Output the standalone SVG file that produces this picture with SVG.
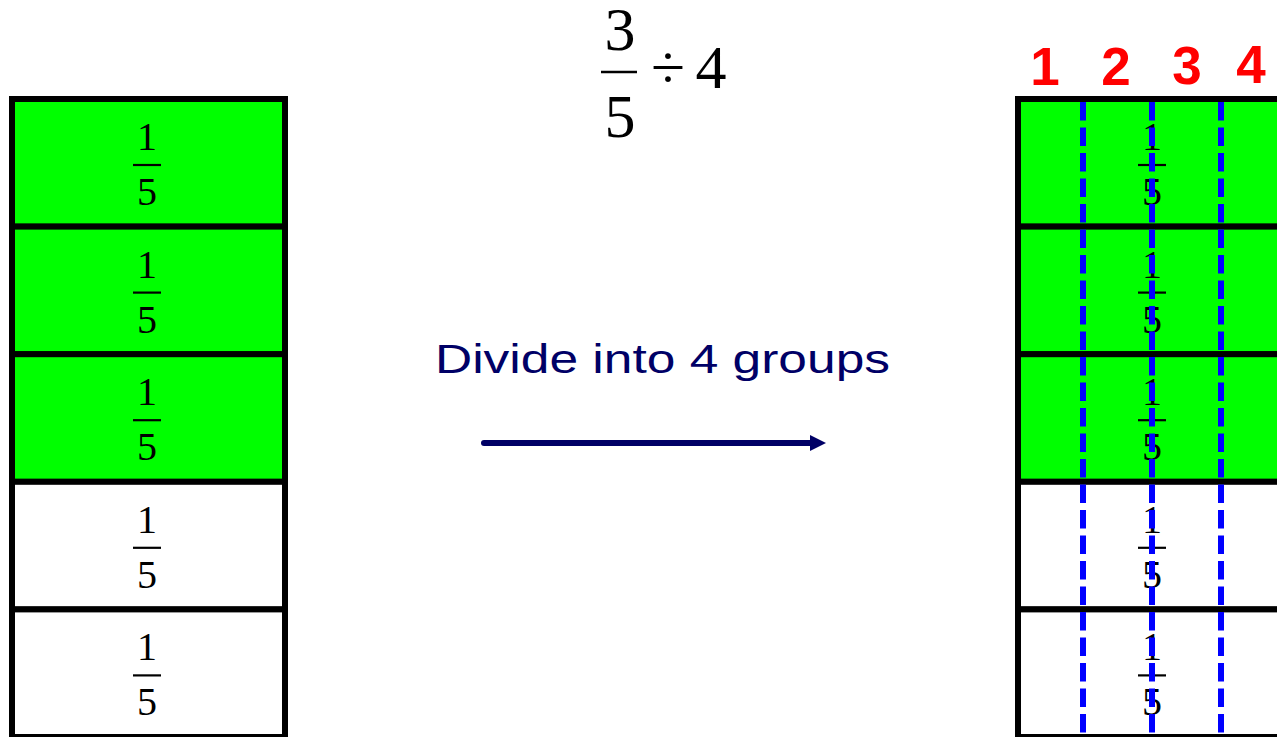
<svg xmlns="http://www.w3.org/2000/svg" width="1277" height="737" viewBox="0 0 1277 737">
<defs>
<style>
.cell{stroke:#000;stroke-width:6}
.g{fill:#00FF00}
.w{fill:#fff}
.fr{font-family:"Liberation Serif","Times New Roman",serif;font-size:40px;fill:#000;text-anchor:middle}
.bar{stroke:#000;stroke-width:2.2}
.big{font-family:"Liberation Serif","Times New Roman",serif;font-size:62px;fill:#000;text-anchor:middle}
.num{font-family:"Liberation Sans",Arial,sans-serif;font-size:53px;font-weight:bold;fill:#FF0000;text-anchor:middle}
.dash{stroke:#0000FF;stroke-width:6;stroke-dasharray:18.5 7;fill:none}
.lbl{font-family:"Liberation Sans",Arial,sans-serif;font-size:41px;fill:#000066}
</style>
<marker id="ah" markerUnits="userSpaceOnUse" markerWidth="18" markerHeight="18" refX="2" refY="8" orient="auto">
<path d="M0,0 L16,8 L0,16 Z" fill="#000066"/>
</marker>
<g id="frac">
<text class="fr" x="0" y="51">1</text>
<line class="bar" x1="-14" y1="66" x2="14" y2="66"/>
<text class="fr" x="0" y="106">5</text>
</g>
</defs>
<rect width="1277" height="737" fill="#fff"/>

<g id="equation">
<text class="big" x="620" y="50">3</text>
<line stroke="#000" stroke-width="2.5" x1="601" y1="72" x2="637" y2="72"/>
<text class="big" x="620" y="137">5</text>
<text class="big" x="668" y="88">÷</text>
<text class="big" x="711" y="88">4</text>
</g>

<g id="left-bar">
<rect class="cell g" x="12" y="99" width="273" height="127.6"/>
<rect class="cell g" x="12" y="226.6" width="273" height="127.6"/>
<rect class="cell g" x="12" y="354.2" width="273" height="127.6"/>
<rect class="cell w" x="12" y="481.8" width="273" height="127.6"/>
<rect class="cell w" x="12" y="609.4" width="273" height="127.6"/>
<use href="#frac" x="147" y="99"/>
<use href="#frac" x="147" y="226.6"/>
<use href="#frac" x="147" y="354.2"/>
<use href="#frac" x="147" y="481.8"/>
<use href="#frac" x="147" y="609.4"/>
</g>

<g id="label">
<text class="lbl" x="435" y="373" textLength="455" lengthAdjust="spacingAndGlyphs">Divide into 4 groups</text>
</g>

<g id="connectors">
<line x1="484" y1="443" x2="812" y2="443" stroke="#000066" stroke-width="6" stroke-linecap="round" marker-end="url(#ah)"/>
</g>

<g id="right-bar">
<rect class="cell g" x="1018" y="99" width="300" height="127.6"/>
<rect class="cell g" x="1018" y="226.6" width="300" height="127.6"/>
<rect class="cell g" x="1018" y="354.2" width="300" height="127.6"/>
<rect class="cell w" x="1018" y="481.8" width="300" height="127.6"/>
<rect class="cell w" x="1018" y="609.4" width="300" height="127.6"/>
<use href="#frac" x="1152" y="99"/>
<use href="#frac" x="1152" y="226.6"/>
<use href="#frac" x="1152" y="354.2"/>
<use href="#frac" x="1152" y="481.8"/>
<use href="#frac" x="1152" y="609.4"/>
<line class="dash" x1="1083" y1="102" x2="1083" y2="737"/>
<line class="dash" x1="1152" y1="102" x2="1152" y2="737"/>
<line class="dash" x1="1221" y1="102" x2="1221" y2="737"/>
</g>

<g id="group-numbers">
<text class="num" x="1045" y="85">1</text>
<text class="num" x="1116" y="85">2</text>
<text class="num" x="1187" y="84">3</text>
<text class="num" x="1251" y="83">4</text>
</g>
</svg>
